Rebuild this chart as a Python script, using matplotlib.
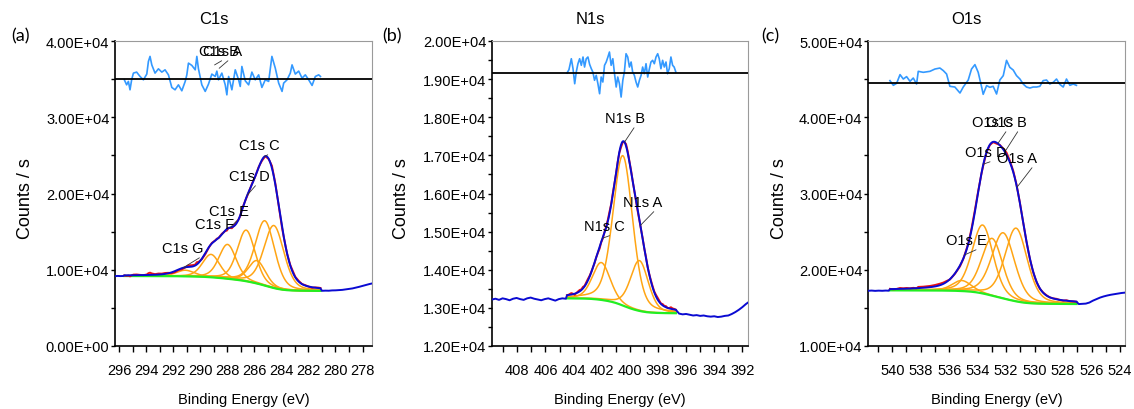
import numpy as np
import matplotlib
matplotlib.use("Agg")
import matplotlib.pyplot as plt
from matplotlib.ticker import MultipleLocator, FuncFormatter

plt.rcParams["font.family"] = ["Liberation Sans", "DejaVu Sans"]

# ---------------- C1s ----------------
c1s_names = ["C1s A", "C1s B", "C1s C", "C1s D", "C1s E", "C1s F", "C1s G"]
c1s_centers = [284.55, 285.80, 285.22, 286.60, 287.98, 289.20, 291.10]
c1s_heights = [8200, 3000, 8500, 6700, 4500, 3000, 800]
c1s_fwhm = [1.75, 1.5, 1.7, 1.55, 1.5, 1.5, 1.6]
c1s_fit_range = [295.61, 281.11]
c1s_bg_ends = [9180, 7230]
c1s_res_zero = 35000
c1s_res_be = [295.61, 295.44, 295.31, 295.19, 295.07, 294.94, 294.70, 294.45, 294.20, 293.95,
              293.83, 293.71, 293.58, 293.34, 293.09, 292.84, 292.60, 292.35, 292.10, 291.86,
              291.61, 291.36, 291.11, 290.99, 290.87, 290.62, 290.37, 290.25, 290.13, 289.88,
              289.63, 289.39, 289.14, 288.89, 288.77, 288.65, 288.40, 288.15, 288.03, 287.90,
              287.66, 287.41, 287.16, 287.04, 286.92, 286.67, 286.42, 286.18, 285.93, 285.68,
              285.44, 285.19, 284.94, 284.70, 284.45, 284.20, 283.95, 283.83, 283.58, 283.34,
              283.21, 282.97, 282.72, 282.47, 282.23, 281.98, 281.73, 281.49, 281.24, 281.11]
c1s_res = [-90, -750, -300, -1400, -90, 790, 920, 350, -90, 660,
           2320, 2980, 1870, 790, 1350, 920, 1220, 560, -1090, -1400,
           -750, -1530, -300, 560, 2100, 1800, 1220, 2980, 1350, -750,
           -1610, -660, 660, 350, 1050, -90, 790, -750, -2060, 350,
           -1400, 1220, -90, -960, 1660, -220, -750, 920, -90, 560,
           -1090, -90, -300, 2980, 1440, -520, -1610, -520, -90, 790,
           1870, 660, 1050, 130, 560, -90, -830, 350, 560, 350]
c1s_left_be = [296.30, 296.10, 295.90, 295.70]
c1s_left = [9160, 9190, 9170, 9180]
c1s_right_be = [281.00, 280.75, 280.50, 280.25, 280.00, 279.75, 279.50, 279.25, 279.00,
                278.75, 278.50, 278.25, 278.00, 277.75, 277.50, 277.30]
c1s_right = [7240, 7260, 7250, 7290, 7300, 7330, 7360, 7420, 7470,
             7550, 7650, 7760, 7880, 8000, 8120, 8200]

# ---------------- N1s ----------------
n1s_names = ["N1s A", "N1s B", "N1s C"]
n1s_centers = [399.32, 400.50, 402.03]
n1s_heights = [1320, 3930, 980]
n1s_fwhm = [1.5, 1.65, 1.5]
n1s_fit_range = [404.47, 396.73]
n1s_bg_ends = [13250, 12860]
n1s_res_zero = 19160
n1s_res_be = [404.47, 404.33, 404.16, 404.04, 403.92, 403.81, 403.69, 403.57, 403.45, 403.33,
              403.22, 403.10, 402.98, 402.86, 402.74, 402.63, 402.51, 402.39, 402.27, 402.15,
              402.04, 401.92, 401.80, 401.68, 401.56, 401.45, 401.33, 401.21, 401.09, 400.97,
              400.86, 400.74, 400.62, 400.50, 400.39, 400.27, 400.15, 400.03, 399.91, 399.80,
              399.68, 399.56, 399.44, 399.32, 399.20, 399.09, 398.97, 398.85, 398.73, 398.61,
              398.50, 398.38, 398.26, 398.14, 398.02, 397.91, 397.79, 397.67, 397.55, 397.43,
              397.32, 397.20, 397.08, 396.96, 396.85, 396.73]
n1s_res = [0, 87, 375, 113, -281, 26, 244, 375, 202, 420,
           157, 375, 420, 228, 113, 26, -191, -60, -281, -543,
           -105, -236, 202, 289, 420, 551, 202, 375, -18, -367,
           -105, -281, -630, -191, 26, 506, 420, 157, 289, 26,
           -60, -236, -367, -191, -60, 157, -18, 244, -105, 113,
           289, 333, 244, 420, 506, 375, 113, 333, 157, 289,
           -18, 113, 420, 202, 157, 26]
n1s_left_be = [409.80, 409.55, 409.30, 409.05, 408.80, 408.55, 408.30, 408.05, 407.80, 407.55, 407.30,
               407.05, 406.80, 406.55, 406.30, 406.05, 405.80, 405.55, 405.30, 405.05, 404.80, 404.55]
n1s_left = [13220, 13240, 13210, 13250, 13230, 13200, 13240, 13260, 13230, 13210, 13250,
            13270, 13240, 13220, 13200, 13230, 13250, 13220, 13190, 13230, 13250, 13240]
n1s_right_be = [396.50, 396.25, 396.00, 395.75, 395.50, 395.25, 395.00, 394.75, 394.50, 394.25, 394.00,
                393.75, 393.50, 393.25, 393.00, 392.75, 392.50, 392.25, 392.00, 391.75, 391.60]
n1s_right = [12850, 12830, 12840, 12820, 12800, 12810, 12790, 12800, 12780, 12770, 12780,
             12760, 12770, 12790, 12800, 12840, 12890, 12950, 13020, 13100, 13140]

# ---------------- O1s ----------------
o1s_names = ["O1s A", "O1s B", "O1s C", "O1s D", "O1s E"]
o1s_centers = [531.30, 532.20, 532.98, 533.65, 535.12]
o1s_heights = [9600, 8610, 7510, 8970, 1380]
o1s_fwhm = [1.85, 1.9, 1.75, 1.75, 1.6]
o1s_fit_range = [540.16, 527.06]
o1s_bg_ends = [17300, 15510]
o1s_res_zero = 44450
o1s_res_be = [540.16, 539.92, 539.69, 539.45, 539.22, 538.99, 538.75, 538.52, 538.29, 538.17,
              537.82, 537.35, 537.00, 536.65, 536.41, 536.18, 535.95, 535.60, 535.24, 535.01,
              534.66, 534.43, 534.19, 533.96, 533.72, 533.61, 533.37, 533.14, 532.91, 532.67,
              532.44, 532.20, 531.97, 531.74, 531.50, 531.27, 531.03, 530.80, 530.57, 530.33,
              530.10, 529.86, 529.63, 529.40, 529.16, 528.93, 528.69, 528.46, 528.23, 527.99,
              527.76, 527.52, 527.29, 527.06]
o1s_res = [354, -262, 0, 1140, 563, 878, 262, 694, -92, 1572,
           1441, 1572, 1873, 2004, 1664, 1218, -393, -485, -1271, -485,
           432, 1873, 2450, 1441, -485, -1441, -301, -524, -393, -1402,
           432, 1009, 3013, 2096, 1742, 1009, 563, -92, -485, -616,
           -485, -485, -393, 354, 432, -92, 131, 563, -131, -485,
           563, -262, -92, -262]
o1s_left_be = [541.70, 541.45, 541.20, 540.95, 540.70, 540.45, 540.25]
o1s_left = [17240, 17270, 17230, 17260, 17240, 17270, 17250]
o1s_right_be = [526.90, 526.65, 526.40, 526.15, 525.90, 525.65, 525.40, 525.15, 524.90,
                524.65, 524.40, 524.15, 523.90, 523.65]
o1s_right = [15500, 15530, 15560, 15700, 15950, 16150, 16350, 16500, 16620,
             16720, 16800, 16870, 16950, 17000]

# residual trace is shown magnified relative to the raw counts
RESIDUAL_GAIN = 10.0

BLUE = "#0a0ad2"
RED = "#ee1111"
ORANGE = "#ffa514"
GREEN = "#22ee22"
RES_BLUE = "#3399ff"


def peak(be, center, height, fwhm, mix=0.3):
    sigma = fwhm / 2.3548
    gamma = fwhm / 2.0
    d = be - center
    g = np.exp(-d ** 2 / (2 * sigma ** 2))
    lor = 1.0 / (1.0 + (d / gamma) ** 2)
    return height * ((1 - mix) * g + mix * lor)


def fit_model(grid, centers, heights, fwhms, bg_hi, bg_lo):
    comps = np.array([peak(grid, c, h, w) for c, h, w in zip(centers, heights, fwhms)])
    total = comps.sum(axis=0)
    # Shirley-type background: step proportional to the peak area on the low-BE side
    area = np.cumsum(total[::-1])[::-1]
    bg = bg_lo + (bg_hi - bg_lo) * area / area[0]
    return comps, bg, total + bg


def sci(v, pos):
    return f"{v:.2E}"


panels = [
    dict(rect=(115, 257), xlim=(296.3, 277.3), ylim=(0, 40000), ymaj=10000, ymin=5000,
         title="C1s", title_x=214, tag="(a)", tag_x=20, ylab_x=26,
         centers=c1s_centers, heights=c1s_heights, fwhm=c1s_fwhm, fit=c1s_fit_range,
         bg=c1s_bg_ends, res_be=c1s_res_be, res=c1s_res, res_zero=c1s_res_zero,
         left_be=c1s_left_be, left=c1s_left, right_be=c1s_right_be, right=c1s_right,
         labels=[("C1s B", 288.60, 38690, 288.94, 36860, (0.80, 0.2)),
                 ("C1s A", 288.37, 38690, 288.60, 36420, (0.81, 0.2)),
                 ("C1s C", 285.63, 26360, 285.26, None, (0.83, 0.0)),
                 ("C1s D", 286.37, 22300, 286.52, None, (0.71, 0.0)),
                 ("C1s E", 287.86, 17700, 287.78, None, (0.76, 0.0)),
                 ("C1s F", 288.97, 16000, 288.37, None, (0.88, 0.0)),
                 ("C1s G", 291.26, 12850, 291.26, None, (1.00, 0.0))]),
    dict(rect=(492, 256), xlim=(409.8, 391.6), ylim=(12000, 20000), ymaj=1000, ymin=500,
         title="N1s", title_x=590, tag="(b)", tag_x=392, ylab_x=402,
         centers=n1s_centers, heights=n1s_heights, fwhm=n1s_fwhm, fit=n1s_fit_range,
         bg=n1s_bg_ends, res_be=n1s_res_be, res=n1s_res, res_zero=n1s_res_zero,
         left_be=n1s_left_be, left=n1s_left, right_be=n1s_right_be, right=n1s_right,
         labels=[("N1s B", 400.31, 17980, 400.38, None, (0.76, 0.0)),
                 ("N1s A", 399.11, 15780, 399.25, None, (0.86, 0.0)),
                 ("N1s C", 401.80, 15150, 401.94, None, (0.81, 0.0))]),
    dict(rect=(868, 257), xlim=(541.7, 523.65), ylim=(10000, 50000), ymaj=10000, ymin=5000,
         title="O1s", title_x=966, tag="(c)", tag_x=770, ylab_x=779,
         centers=o1s_centers, heights=o1s_heights, fwhm=o1s_fwhm, fit=o1s_fit_range,
         bg=o1s_bg_ends, res_be=o1s_res_be, res=o1s_res, res_zero=o1s_res_zero,
         left_be=o1s_left_be, left=o1s_left, right_be=o1s_right_be, right=o1s_right,
         labels=[("O1s C", 532.93, 39380, 532.58, None, (0.86, 0.0)),
                 ("O1s B", 531.95, 39380, 532.09, None, (0.81, 0.0)),
                 ("O1s D", 533.42, 35440, 533.60, None, (0.79, 0.0)),
                 ("O1s A", 531.24, 34660, 531.24, None, (0.93, 0.0)),
                 ("O1s E", 534.82, 23900, 534.90, None, (0.90, 0.0))]),
]

W, H = 1134, 410
fig = plt.figure(figsize=(W / 100, H / 100), dpi=100)

for p in panels:
    left_px, width_px = p["rect"]
    ax = fig.add_axes([left_px / W, 1 - 347 / H, width_px / W, 305 / H])

    grid = np.linspace(p["fit"][0], p["fit"][1], 1500)
    comps, bg, env = fit_model(grid, p["centers"], p["heights"], p["fwhm"], *p["bg"])

    def env_at(x, grid=grid, env=env):
        return np.interp(x, grid[::-1], env[::-1])

    for comp in comps:
        ax.plot(grid, comp + bg, color=ORANGE, lw=1.1, zorder=2)
    ax.plot(grid, bg, color=GREEN, lw=1.6, zorder=3)

    res_be = np.array(p["res_be"])
    res = np.array(p["res"], dtype=float)
    raw_fit = env_at(res_be) + res / RESIDUAL_GAIN
    ax.plot(res_be, raw_fit, color=RED, lw=1.4, zorder=4)

    blue_x = np.concatenate([p["left_be"], grid, p["right_be"]])
    blue_y = np.concatenate([p["left"], env, p["right"]])
    ax.plot(blue_x, blue_y, color=BLUE, lw=1.4, zorder=5)

    ax.plot(res_be, p["res_zero"] + res, color=RES_BLUE, lw=1.2, zorder=5)
    ax.axhline(p["res_zero"], color="black", lw=1.3, zorder=6)

    for name, tx, ty, ex, ey, rel in p["labels"]:
        if ey is None:
            ey = float(env_at(ex))
        ax.annotate(name, xy=(ex, ey), xytext=(tx, ty), ha="center", va="center",
                    fontsize=10.5, color="black", zorder=7,
                    arrowprops=dict(arrowstyle="-", color="#333333", lw=0.6,
                                    shrinkA=0, shrinkB=0, relpos=rel))

    ax.set_xlim(*p["xlim"])
    ax.set_ylim(*p["ylim"])
    ax.xaxis.set_major_locator(MultipleLocator(2))
    ax.xaxis.set_minor_locator(MultipleLocator(1))
    ax.yaxis.set_major_locator(MultipleLocator(p["ymaj"]))
    ax.yaxis.set_minor_locator(MultipleLocator(p["ymin"]))
    ax.yaxis.set_major_formatter(FuncFormatter(sci))
    ax.xaxis.set_major_formatter(FuncFormatter(lambda v, pos: f"{v:.0f}"))
    ax.tick_params(axis="y", which="both", direction="out", length=3, width=1,
                   pad=1, labelsize=10.5, right=False)
    ax.tick_params(axis="x", which="both", direction="out", length=4, width=1,
                   pad=8, labelsize=10.5, top=False)
    for side in ("left", "bottom"):
        ax.spines[side].set_color("black")
        ax.spines[side].set_linewidth(1.2)
    for side in ("top", "right"):
        ax.spines[side].set_color("#9a9a9a")
        ax.spines[side].set_linewidth(0.8)

    cx = (left_px + width_px / 2) / W
    fig.text(p["title_x"] / W, 1 - 20 / H, p["title"], ha="center", va="center", fontsize=12)
    fig.text(p["tag_x"] / W, 1 - 36 / H, p["tag"], ha="center", va="center",
             fontsize=13, family=["Lato", "DejaVu Sans"])
    fig.text(p["ylab_x"] / W, 1 - 199 / H, "Counts / s", rotation=90,
             ha="center", va="center", fontsize=13)
    fig.text(cx, 1 - 400 / H, "Binding Energy (eV)", ha="center", va="center", fontsize=10.5)

fig.savefig("out.png", dpi=100)
